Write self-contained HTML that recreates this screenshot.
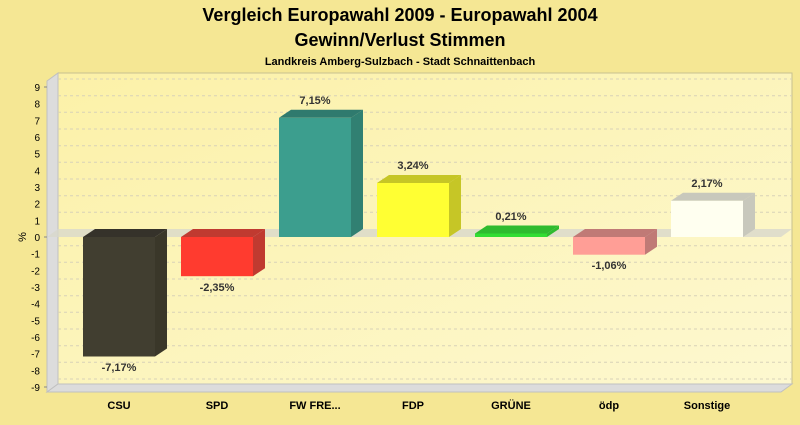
<!DOCTYPE html>
<html><head><meta charset="utf-8"><style>
html,body{margin:0;padding:0;}
body{width:800px;height:420px;background:#f5e794;font-family:"Liberation Sans",sans-serif;overflow:hidden;}
svg text{font-family:"Liberation Sans",sans-serif;}
</style></head><body>
<svg width="800" height="420" viewBox="0 0 800 420" xmlns="http://www.w3.org/2000/svg">
<defs>
<linearGradient id="bg" x1="0" y1="0" x2="1" y2="1">
<stop offset="0" stop-color="#fcf1a8"/><stop offset="1" stop-color="#fdf8d0"/>
</linearGradient>
</defs>
<rect width="800" height="420" fill="#f5e794"/>
<text x="400" y="21" font-size="18" font-weight="bold" text-anchor="middle" fill="#000">Vergleich Europawahl 2009 - Europawahl 2004</text>
<text x="400" y="46" font-size="18" font-weight="bold" text-anchor="middle" fill="#000">Gewinn/Verlust Stimmen</text>
<text x="400" y="65" font-size="11" font-weight="bold" text-anchor="middle" fill="#000">Landkreis Amberg-Sulzbach - Stadt Schnaittenbach</text>
<!-- back wall -->
<rect x="58" y="73" width="734" height="311" fill="url(#bg)" stroke="#c8c090" stroke-width="1"/>
<!-- left wall -->
<polygon points="47,81 58,73 58,384 47,392" fill="#dcdcdc" stroke="#c0c0c0"/>
<!-- floor -->
<polygon points="47,392 58,384 792,384 781,392" fill="#dcdcdc" stroke="#c0c0c0"/>
<g stroke="#d8d2b8" stroke-dasharray="3,3" stroke-width="1">
<line x1="58" x2="792" y1="79" y2="79"/><line x1="58" x2="792" y1="95.7" y2="95.7"/><line x1="58" x2="792" y1="112.3" y2="112.3"/><line x1="58" x2="792" y1="129" y2="129"/><line x1="58" x2="792" y1="145.7" y2="145.7"/><line x1="58" x2="792" y1="162.3" y2="162.3"/><line x1="58" x2="792" y1="179" y2="179"/><line x1="58" x2="792" y1="195.7" y2="195.7"/><line x1="58" x2="792" y1="212.3" y2="212.3"/><line x1="58" x2="792" y1="245.7" y2="245.7"/><line x1="58" x2="792" y1="262.3" y2="262.3"/><line x1="58" x2="792" y1="279" y2="279"/><line x1="58" x2="792" y1="295.7" y2="295.7"/><line x1="58" x2="792" y1="312.3" y2="312.3"/><line x1="58" x2="792" y1="329" y2="329"/><line x1="58" x2="792" y1="345.7" y2="345.7"/><line x1="58" x2="792" y1="362.3" y2="362.3"/><line x1="58" x2="792" y1="379" y2="379"/>
</g>
<!-- zero band -->
<polygon points="47,237 58,229 792,229 781,237" fill="#d8d8cc" opacity="0.8"/>
<!-- ticks -->
<g font-size="10" fill="#000" text-anchor="end">
<text x="40" y="91">9</text><text x="40" y="107.7">8</text><text x="40" y="124.3">7</text><text x="40" y="141">6</text><text x="40" y="157.7">5</text><text x="40" y="174.3">4</text><text x="40" y="191">3</text><text x="40" y="207.7">2</text><text x="40" y="224.3">1</text><text x="40" y="241">0</text><text x="40" y="257.7">-1</text><text x="40" y="274.3">-2</text><text x="40" y="291">-3</text><text x="40" y="307.7">-4</text><text x="40" y="324.3">-5</text><text x="40" y="341">-6</text><text x="40" y="357.7">-7</text><text x="40" y="374.3">-8</text><text x="40" y="391">-9</text>
</g>
<g stroke="#888" stroke-width="1">
<line x1="44" x2="47" y1="87" y2="87"/><line x1="44" x2="47" y1="237" y2="237"/><line x1="44" x2="47" y1="387" y2="387"/>
</g>
<text x="22" y="237" font-size="11" text-anchor="middle" transform="rotate(-90 22 237)" dy="4">%</text>
<!-- bars -->
<!-- CSU -->
<polygon points="83,237 95,229 167,229 155,237" fill="#35322a"/>
<polygon points="155,237 167,229 167,348.5 155,356.5" fill="#3a3729"/>
<rect x="83" y="237" width="72" height="119.5" fill="#413e30"/>
<!-- SPD -->
<polygon points="181,237 193,229 265,229 253,237" fill="#c03a30"/>
<polygon points="253,237 265,229 265,268.2 253,276.2" fill="#c03a30"/>
<rect x="181" y="237" width="72" height="39.2" fill="#ff3b2f"/>
<!-- FW -->
<polygon points="279,117.8 291,109.8 363,109.8 351,117.8" fill="#2f7a6e"/>
<polygon points="351,117.8 363,109.8 363,229 351,237" fill="#318072"/>
<rect x="279" y="117.8" width="72" height="119.2" fill="#3c9e8e"/>
<!-- FDP -->
<polygon points="377,183 389,175 461,175 449,183" fill="#c6c626"/>
<polygon points="449,183 461,175 461,229 449,237" fill="#c6c626"/>
<rect x="377" y="183" width="72" height="54" fill="#ffff33"/>
<!-- GRUENE -->
<polygon points="475,233.5 487,225.5 559,225.5 547,233.5" fill="#2fbb2f"/>
<polygon points="547,233.5 559,225.5 559,229 547,237" fill="#2fbb2f"/>
<rect x="475" y="233.5" width="72" height="3.5" fill="#33dd33"/>
<!-- odp -->
<polygon points="573,237 585,229 657,229 645,237" fill="#c07a76"/>
<polygon points="645,237 657,229 657,246.7 645,254.7" fill="#c07a76"/>
<rect x="573" y="237" width="72" height="17.7" fill="#ff9e96"/>
<!-- Sonstige -->
<polygon points="671,200.8 683,192.8 755,192.8 743,200.8" fill="#c8c8bc"/>
<polygon points="743,200.8 755,192.8 755,229 743,237" fill="#c8c8bc"/>
<rect x="671" y="200.8" width="72" height="36.2" fill="#fffff0"/>
<!-- value labels -->
<g font-size="11" font-weight="bold" fill="#333" text-anchor="middle">
<text x="119" y="371">-7,17%</text>
<text x="217" y="291">-2,35%</text>
<text x="315" y="104">7,15%</text>
<text x="413" y="169">3,24%</text>
<text x="511" y="220">0,21%</text>
<text x="609" y="269">-1,06%</text>
<text x="707" y="187">2,17%</text>
</g>
<g font-size="11" font-weight="bold" fill="#000" text-anchor="middle">
<text x="119" y="409">CSU</text>
<text x="217" y="409">SPD</text>
<text x="315" y="409">FW FRE...</text>
<text x="413" y="409">FDP</text>
<text x="511" y="409">GRÜNE</text>
<text x="609" y="409">ödp</text>
<text x="707" y="409">Sonstige</text>
</g>
</svg>
</body></html>
